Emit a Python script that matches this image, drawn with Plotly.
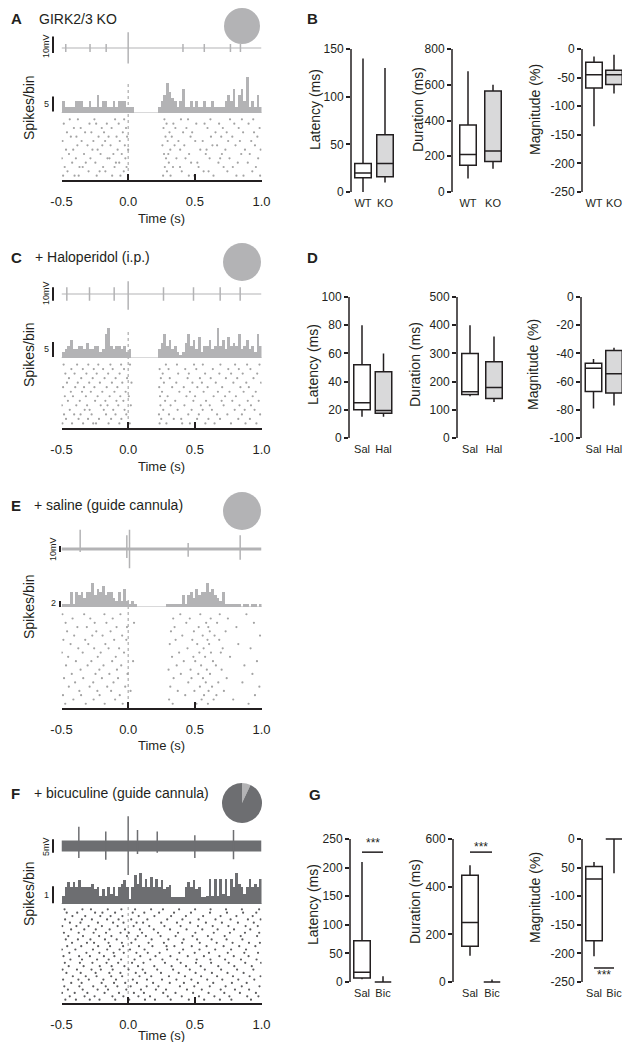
import plotly.graph_objects as go

# ---------------------------------------------------------------- data
TIME_RANGE = [-0.5, 1.0]
BIN_W = 0.02
TIME_TICKS = [-0.5, 0.0, 0.5, 1.0]
TIME_TEXT = ['-0.5', '0.0', '0.5', '1.0']

# voltage traces: spike time (s), peak (mV), trough (mV)
A_SPK_T = [-0.468, -0.286, -0.165, 0.0, 0.411, 0.571, 0.767, 0.842]
A_SPK_UP = [2.4, 2.4, 2.4, 9.6, 2.4, 2.4, 2.4, 2.4]
A_SPK_DN = [-2.4, -2.4, -2.4, -9.4, -2.4, -2.4, -2.4, -2.4]
C_SPK_T = [-0.46, -0.29, -0.105, 0.0, 0.265, 0.49, 0.69, 0.84]
C_SPK_UP = [5, 5, 5, 9.5, 5, 5, 5, 5]
C_SPK_DN = [-5, -5, -5, -11.8, -5, -5, -5, -5]
E_SPK_T = [-0.36, -0.01, 0.01, 0.45, 0.84]
E_SPK_UP = [32, 23, 32, 10, 23]
E_SPK_DN = [-5, -15, -32, -13, -18]
F_SPK_T = [-0.37, -0.168, 0.0, 0.07, 0.218, 0.5, 0.79]
F_SPK_UP = [7.2, 5.4, 11.2, 6, 5.4, 4, 6]
F_SPK_DN = [-4.5, -5.2, -10.9, -3, -2.5, -4.5, -5]

# PSTH counts, 20 ms bins from -0.5 s to 1.0 s
A_HIST = [4, 2, 2, 2, 2, 4, 4, 4, 2, 2, 4, 2, 2, 6, 2, 4, 4, 2, 2, 4, 2, 4, 4, 4, 2,
          2, 2, 0, 0, 0, 0, 0, 0, 0, 0,
          0, 2, 4, 6, 10, 7, 5, 4, 2, 4, 8, 2, 2, 4, 2, 4, 2, 2, 4, 2,
          2, 4, 2, 2, 2, 2, 4, 6, 4, 8, 2, 6, 8, 4, 12, 2, 4, 2, 6, 2]
C_HIST = [2, 3, 4, 6, 3, 3, 4, 4, 3, 5, 3, 3, 4, 4, 2, 3, 8, 10, 4, 3, 4, 4, 3, 4, 2,
          3, 0, 0, 0, 0, 0, 0, 0, 0, 0,
          0, 3, 5, 8, 4, 6, 3, 4, 2, 1, 2, 5, 8, 4, 6, 3, 7, 2, 4, 4,
          6, 3, 4, 10, 4, 6, 3, 7, 4, 5, 4, 8, 3, 4, 6, 3, 4, 2, 8, 4]
E_HIST = [1, 1, 1, 5, 1, 5, 4, 5, 3, 5, 5, 8, 4, 6, 5, 7, 4, 5, 5, 3, 2, 5, 2, 6, 2,
          1, 2, 1, 0, 0, 0, 0, 0, 0, 0,
          0, 0, 0, 0, 1, 1, 1, 1, 1, 1, 4, 1, 4, 5, 3, 6, 4, 5, 5, 8,
          5, 6, 4, 3, 2, 5, 1, 1, 1, 1, 1, 1, 0, 1, 1, 0, 1, 1, 0, 1]
F_HIST = [0.5, 1.0, 1.3, 1.0, 1.3, 1.0, 1.4, 1.0, 1.0, 1.0, 1.0, 1.2, 0.9, 1.0, 0.5,
          0.9, 0.5, 1.0, 0.6, 1.0, 0.5, 1.0, 1.2, 1.4, 1.0, 0.3, 1.0, 1.7, 1.2, 1.8,
          1.0, 1.5, 1.0, 1.6, 1.0, 1.5, 1.0, 1.4, 0.9, 1.0, 1.1, 0.4, 0.4, 0.4, 0.4,
          0.4, 1.0, 1.3, 1.0, 1.4, 0.9, 1.0, 0.4, 0.4, 0.5, 1.5, 0.5, 1.5, 0.5, 1.5,
          0.6, 1.5, 0.5, 1.5, 1.0, 1.8, 1.2, 1.0, 0.6, 1.0, 1.5, 1.0, 1.2, 1.0, 1.5]

# rasters: spike times (ms) per trial
A_RASTER = [
    [-488, -402, -371, -236, -120, -58, 262, 318, 455, 497, 640, 812, 865, 990],
    [-455, -297, -214, -171, -33, 291, 402, 566, 603, 744, 931],
    [-476, -365, -341, -188, -102, -12, 275, 336, 389, 528, 716, 785, 958],
    [-420, -318, -246, -92, -67, 305, 472, 519, 677, 822, 897],
    [-497, -392, -283, -155, -140, -21, 284, 362, 430, 611, 690, 760, 975],
    [-444, -331, -207, -111, -48, 269, 301, 457, 582, 703, 848, 912],
    [-466, -412, -268, -229, -79, 0, 316, 390, 541, 588, 729, 876, 994],
    [-381, -305, -194, -132, -25, 257, 348, 421, 632, 667, 805, 951],
    [-492, -349, -261, -173, -63, 296, 377, 503, 559, 750, 838, 923],
    [-430, -388, -222, -147, -87, -8, 280, 327, 468, 621, 698, 781, 969],
    [-459, -323, -276, -181, -40, 310, 412, 480, 655, 739, 862, 944],
    [-407, -356, -198, -124, -16, 265, 354, 437, 595, 710, 829, 986],
    [-483, -290, -240, -160, -71, 288, 339, 511, 573, 682, 796, 903],
    [-438, -377, -253, -98, -30, 272, 396, 449, 617, 764, 853, 938],
]
C_RASTER = [
    [-493, -421, -338, -262, -241, -147, -66, 12, 236, 287, 405, 463, 579, 648, 771, 880, 962],
    [-466, -372, -301, -219, -128, -51, 248, 342, 398, 517, 602, 689, 826, 913],
    [-481, -405, -357, -274, -166, -95, -14, 231, 306, 451, 530, 667, 744, 853, 990],
    [-438, -326, -289, -183, -112, -27, 263, 371, 476, 559, 628, 799, 874, 948],
    [-497, -389, -308, -206, -155, -74, 20, 242, 318, 422, 545, 612, 716, 835, 921],
    [-452, -363, -248, -171, -88, -36, 277, 353, 489, 584, 701, 781, 897, 979],
    [-475, -414, -317, -229, -139, -59, 5, 239, 296, 437, 502, 641, 727, 808, 934],
    [-430, -346, -280, -194, -103, -19, 254, 384, 463, 566, 673, 760, 866, 957],
    [-488, -397, -331, -253, -161, -81, 233, 330, 417, 519, 596, 705, 842, 905],
    [-459, -378, -292, -212, -122, -44, 25, 268, 361, 482, 553, 657, 789, 886, 997],
    [-444, -352, -266, -177, -94, -8, 245, 312, 446, 538, 619, 733, 818, 940],
    [-471, -402, -313, -236, -150, -64, 259, 375, 455, 577, 684, 772, 859, 968],
    [-426, -340, -258, -188, -116, -31, 236, 303, 428, 511, 635, 751, 830, 917],
    [-484, -383, -299, -224, -133, -53, 14, 283, 366, 494, 560, 692, 802, 892, 985],
]
E_RASTER = [
    [-472, -318, -176, -41, 334, 512, 598, 903],
    [-411, -259, -98, 307, 551, 641, 788],
    [-489, -353, -214, -63, 428, 569, 662, 951],
    [-366, -231, -128, 18, 372, 497, 603, 718],
    [-445, -289, -157, -22, 316, 538, 629, 984],
    [-398, -262, -110, 451, 582, 676, 857],
    [-481, -337, -197, -76, 341, 475, 561, 739],
    [-423, -245, -141, -5, 395, 526, 614, 932],
    [-357, -216, -84, 303, 468, 590, 701],
    [-466, -304, -185, -52, 364, 547, 658, 872],
    [-392, -276, -120, 37, 417, 503, 636, 966],
    [-450, -228, -93, 329, 489, 577, 764],
    [-497, -341, -206, -31, 382, 534, 621, 695],
    [-374, -255, -147, -68, 445, 566, 709, 918],
    [-432, -299, -171, 312, 518, 607, 826],
    [-486, -322, -105, -14, 356, 481, 595, 683],
    [-405, -269, -192, -45, 406, 559, 648, 989],
    [-458, -239, -132, 321, 493, 612, 731],
    [-381, -310, -87, -9, 348, 529, 601, 812],
    [-469, -251, -163, 44, 436, 585, 667, 943],
    [-417, -284, -116, 338, 462, 619, 748],
    [-493, -330, -178, -58, 391, 541, 687, 887],
]
F_RASTER = [
    [-471, -392, -288, -215, -97, 8, 126, 201, 319, 455, 570, 688, 774, 921],
    [-438, -327, -252, -118, -36, 77, 164, 297, 402, 531, 647, 759, 893, 977],
    [-496, -401, -306, -177, -69, 43, 118, 263, 355, 487, 603, 721, 838, 958],
    [-452, -341, -229, -151, -14, 96, 208, 284, 441, 552, 694, 801, 907],
    [-479, -366, -262, -168, -81, 19, 139, 227, 388, 496, 612, 731, 852, 985],
    [-427, -349, -199, -106, -22, 66, 187, 312, 418, 523, 638, 778, 889],
    [-488, -373, -295, -186, -91, 35, 141, 254, 362, 474, 593, 706, 826, 946],
    [-415, -318, -237, -127, -45, 85, 173, 306, 426, 547, 667, 786, 911, 993],
    [-463, -356, -244, -141, -58, 57, 128, 246, 379, 506, 628, 745, 866],
    [-492, -384, -275, -205, -116, 3, 109, 218, 337, 462, 575, 697, 817, 939],
    [-446, -334, -213, -124, -28, 74, 196, 326, 434, 544, 676, 796, 927],
    [-475, -362, -268, -162, -75, 29, 115, 276, 394, 509, 622, 754, 878, 997],
    [-433, -346, -233, -146, -53, 48, 166, 257, 368, 514, 617, 727, 846, 963],
    [-485, -368, -287, -182, -103, 91, 205, 317, 447, 568, 684, 792, 903],
    [-441, -313, -216, -109, -33, 62, 147, 236, 384, 499, 606, 747, 871, 974],
    [-497, -396, -264, -157, -64, 14, 123, 292, 412, 535, 653, 772, 884],
    [-457, -352, -225, -136, -38, 81, 182, 288, 347, 477, 588, 716, 833, 954],
    [-421, -309, -256, -147, -47, 24, 153, 268, 405, 537, 664, 783, 906, 988],
    [-468, -377, -283, -174, -86, 55, 176, 302, 416, 517, 626, 738, 857],
    [-449, -339, -218, -126, -9, 72, 133, 243, 356, 483, 598, 724, 844, 967],
    [-482, -371, -259, -166, -57, 5, 104, 224, 374, 504, 642, 763, 876, 983],
    [-428, -329, -243, -139, -24, 88, 192, 314, 438, 556, 671, 794, 916],
    [-494, -388, -297, -197, -79, 41, 158, 272, 393, 524, 634, 752, 881, 972],
    [-437, -358, -227, -113, -35, 63, 112, 248, 366, 465, 583, 703, 823, 942],
    [-473, -347, -272, -158, -72, 23, 144, 293, 407, 528, 655, 768, 898, 994],
    [-418, -322, -209, -132, -43, 79, 197, 322, 433, 562, 693, 812, 934],
    [-461, -382, -248, -193, -98, 34, 121, 232, 344, 471, 614, 741, 862, 961],
    [-477, -343, -279, -153, -51, 52, 172, 261, 382, 502, 618, 734, 853, 982],
]

# pie charts (fraction of neurons)
A_PIE = [100]
C_PIE = [100]
E_PIE = [100]
F_PIE = [7, 93]

# box stats: lower whisker, q1, median, q3, upper whisker
B_CATS = ['WT', 'KO']
B_LAT = [[0, 15, 20, 30, 140], [10, 16, 30, 60, 130]]
B_DUR = [[75, 150, 210, 375, 675], [130, 170, 230, 565, 600]]
B_MAG = [[-135, -68, -45, -23, -13], [-78, -62, -45, -37, -10]]
D_CATS = ['Sal', 'Hal']
D_LAT = [[15, 20, 25, 52, 80], [15, 17.5, 19.5, 47, 60]]
D_DUR = [[148, 154, 164, 300, 400], [128, 140, 179, 270, 360]]
D_MAG = [[-79, -67, -50.5, -47, -44], [-77, -68, -54.5, -38, -36]]
G_CATS = ['Sal', 'Bic']
G_LAT = [[5, 7, 17, 72, 210], [0, 0, 0, 0, 10]]
G_DUR = [[110, 150, 250, 448, 490], [0, 0, 0, 0, 10]]
G_MAG = [[-205, -178, -70, -48, -40], [-60, 0, 0, 0, 0]]
G_SIG = [227, 545, -225.5]      # significance bar levels
G_STAR = [243, 566, -238]       # *** label levels

B_LAT_TICKS = [0, 50, 100, 150]
B_DUR_TICKS = [0, 200, 400, 600, 800]
B_MAG_TICKS = [0, -50, -100, -150, -200, -250]
D_LAT_TICKS = [0, 20, 40, 60, 80, 100]
D_DUR_TICKS = [0, 100, 200, 300, 400, 500]
D_MAG_TICKS = [0, -20, -40, -60, -80, -100]
G_LAT_TICKS = [0, 50, 100, 150, 200, 250]
G_DUR_TICKS = [0, 200, 400, 600]
G_MAG_TICKS = [0, -50, -100, -150, -200, -250]
G_MAG_TEXT = ['0', '50', '-100', '-150', '-200', '-250']

# ---------------------------------------------------------------- helpers
OFF = 8                      # page body margin; positions below are page pixels
W, H = 631 - 2 * OFF, 1050 - 2 * OFF
INK = '#231f20'
LIGHT = '#b3b3b5'
DARK = '#6d6e71'
FONT = 'Liberation Sans, Arial, Helvetica, sans-serif'


def fx(px):
    return (px - OFF) / W


def fy(py):
    return 1 - (py - OFF) / H


fig = go.Figure()
layout = {}
shapes = []
annos = []
n_ax = [0]


def new_axes(xpx, ypx, xr, yr, xkw=None, ykw=None):
    n_ax[0] += 1
    s = '' if n_ax[0] == 1 else str(n_ax[0])
    xa = dict(domain=[fx(xpx[0]), fx(xpx[1])], range=xr, anchor='y' + s, automargin=False,
              showgrid=False, zeroline=False, fixedrange=True)
    xa.update(xkw or dict(visible=False))
    ya = dict(domain=[fy(ypx[1]), fy(ypx[0])], range=yr, anchor='x' + s, automargin=False,
              showgrid=False, zeroline=False, fixedrange=True)
    ya.update(ykw or dict(visible=False))
    layout['xaxis' + s] = xa
    layout['yaxis' + s] = ya
    return 'x' + s, 'y' + s


def text(x, y, s, size=13, angle=0, anchor='center', bold=False):
    annos.append(dict(x=fx(x), y=fy(y), xref='paper', yref='paper', text=s,
                      showarrow=False, textangle=angle, xanchor=anchor, yanchor='middle',
                      font=dict(size=size, color=INK, family=FONT,
                                weight='bold' if bold else 'normal')))


TIME_AXIS = dict(visible=True, showline=True, linecolor=INK, linewidth=1.5,
                 ticks='inside', ticklen=6, tickwidth=1.5, tickcolor=INK,
                 tickvals=TIME_TICKS, ticktext=TIME_TEXT, ticklabelstandoff=9,
                 tickfont=dict(size=13, color=INK, family=FONT))


def time_panel(cfg, spk, hist, raster, pie, color, dot_color, pie_colors):
    x0, x1 = 61.5, 261.5
    # voltage trace
    vmax = cfg['vmax']
    xa, ya = new_axes((x0, x1), cfg['trace'], TIME_RANGE, [-vmax, vmax])
    fig.add_trace(go.Scatter(x=TIME_RANGE, y=[0, 0], mode='lines',
                             line=dict(color=color, width=cfg['band']),
                             xaxis=xa, yaxis=ya, hoverinfo='skip'))
    xs, ys = [], []
    for t, u, d in zip(*spk):
        xs += [t, t, None]
        ys += [u, d, None]
    fig.add_trace(go.Scatter(x=xs, y=ys, mode='lines', line=dict(color=color, width=1.5),
                             xaxis=xa, yaxis=ya, hoverinfo='skip'))
    ty0, ty1 = cfg['trace']
    tri_v = vmax + (ty0 - cfg['tri']) * 2 * vmax / (ty1 - ty0)
    fig.add_trace(go.Scatter(x=[0.0], y=[tri_v], mode='markers', cliponaxis=False,
                             marker=dict(symbol='triangle-down', size=7, color='black'),
                             xaxis=xa, yaxis=ya, hoverinfo='skip'))
    shapes.append(dict(type='line', xref='paper', yref=ya, x0=fx(cfg['bar_x']), x1=fx(cfg['bar_x']),
                       y0=cfg['mv_bar'][0], y1=cfg['mv_bar'][1], line=dict(color=INK, width=2)))
    text(cfg['bar_x'] - 7, cfg['mv_lab_y'], cfg['mv_lab'], size=9, angle=-90)

    # PSTH
    xa, ya = new_axes((x0, x1), cfg['hist'], TIME_RANGE, [0, cfg['hmax']])
    centers = [TIME_RANGE[0] + BIN_W * (i + 0.5) for i in range(len(hist))]
    fig.add_trace(go.Bar(x=centers, y=hist, width=BIN_W, marker=dict(color=color, line=dict(width=0)),
                         xaxis=xa, yaxis=ya, hoverinfo='skip'))
    shapes.append(dict(type='line', xref=xa + ' domain', yref=ya, x0=0, x1=1, y0=0, y1=0,
                       line=dict(color=color, width=1.2)))
    shapes.append(dict(type='line', xref='paper', yref=ya, x0=fx(cfg['bar_x']), x1=fx(cfg['bar_x']),
                       y0=cfg['h_bar'][0], y1=cfg['h_bar'][1], line=dict(color=INK, width=2)))
    text(cfg['bar_x'] - 7, cfg['h_lab_y'], cfg['h_lab'], size=9)

    # raster
    n = len(raster)
    xa, ya = new_axes((x0, x1), cfg['raster'], TIME_RANGE, [0, n + 1], xkw=TIME_AXIS)
    rx, ry = [], []
    for k, trial in enumerate(raster):
        rx += [t / 1000 for t in trial]
        ry += [k + 1] * len(trial)
    fig.add_trace(go.Scatter(x=rx, y=ry, mode='markers',
                             marker=dict(size=2.2, color=dot_color, line=dict(width=0)),
                             xaxis=xa, yaxis=ya, hoverinfo='skip'))
    shapes.append(dict(type='line', xref=xa, yref='paper', x0=0, x1=0,
                       y0=fy(cfg['raster'][1] - 3), y1=fy(cfg['dot_top']),
                       line=dict(color='#9a9a9a', width=1, dash='dot'), layer='below'))

    # pie
    cx, cy, r = cfg['pie']
    fig.add_trace(go.Pie(values=pie, marker=dict(colors=pie_colors, line=dict(width=0)),
                         domain=dict(x=[fx(cx - r), fx(cx + r)], y=[fy(cy + r), fy(cy - r)]),
                         textinfo='none', sort=False, direction='counterclockwise',
                         hoverinfo='skip', showlegend=False))

    # labels
    text(9, cfg['title_y'], cfg['letter'], size=15, anchor='left', bold=True)
    text(cfg['title_x'], cfg['title_y'], cfg['title'], size=14, anchor='left')
    text(29, cfg['ylab_y'], 'Spikes/bin', size=14, angle=-90)
    text(161, cfg['time_y'], 'Time (s)', size=13)


def box_panel(ytop, ybot, vtop, vbot, ax_px, c0, c1, right, stats, fills, cats,
              tickvals, ticktext, title, title_x, title_y, pad=3):
    unit = c1 - c0
    xr = [(ax_px - c0) / unit, (right - c0) / unit]
    k = (vtop - vbot) / (ybot - ytop)
    yr = [vbot - pad * k, vtop + pad * k]
    ykw = dict(visible=True, showline=False, ticks='outside', ticklen=4, tickwidth=1.5,
               tickcolor=INK, tickvals=tickvals,
               ticktext=ticktext or [str(v) for v in tickvals],
               tickfont=dict(size=12, color=INK, family=FONT))
    xkw = dict(visible=True, showline=False, ticks='', tickvals=[0, 1], ticktext=cats,
               tickfont=dict(size=11, color=INK, family=FONT))
    xa, ya = new_axes((ax_px, right), (ytop - pad, ybot + pad), xr, yr, xkw, ykw)
    for i, (s, fc) in enumerate(zip(stats, fills)):
        fig.add_trace(go.Box(x=[i], lowerfence=[s[0]], q1=[s[1]], median=[s[2]], q3=[s[3]],
                             upperfence=[s[4]], width=16.5 / unit, whiskerwidth=0,
                             fillcolor=fc, line=dict(color=INK, width=1.5),
                             boxpoints=False, xaxis=xa, yaxis=ya, hoverinfo='skip'))
    shapes.append(dict(type='line', xref=xa + ' domain', yref=ya, x0=0, x1=0,
                       y0=vbot, y1=vtop, line=dict(color=INK, width=1.5)))
    text(title_x, title_y, title, size=14, angle=-90)
    return xa, ya


# ---------------------------------------------------------------- panels A, C, E, F
time_panel(dict(letter='A', title='GIRK2/3 KO', title_x=37, title_y=19,
                trace=(30, 66), vmax=11, band=1.2, tri=27,
                bar_x=53, mv_bar=(-3, 7), mv_lab='10mV', mv_lab_y=46,
                hist=(71, 113), hmax=14, h_bar=(0.5, 5.5), h_lab='5', h_lab_y=104,
                raster=(115, 180), dot_top=82, pie=(242, 26, 18), ylab_y=108, time_y=219),
           (A_SPK_T, A_SPK_UP, A_SPK_DN), A_HIST, A_RASTER, A_PIE, LIGHT, '#a3a3a3', [LIGHT])

time_panel(dict(letter='C', title='+ Haloperidol (i.p.)', title_x=33, title_y=257,
                trace=(276, 312), vmax=13.5, band=1.2, tri=271,
                bar_x=53, mv_bar=(-5, 5), mv_lab='10mV', mv_lab_y=293,
                hist=(316, 358), hmax=14, h_bar=(0.3, 5.3), h_lab='5', h_lab_y=349,
                raster=(360, 428), dot_top=330, pie=(242, 262, 19), ylab_y=355, time_y=466),
           (C_SPK_T, C_SPK_UP, C_SPK_DN), C_HIST, C_RASTER, C_PIE, LIGHT, '#a3a3a3', [LIGHT])

time_panel(dict(letter='E', title='+ saline (guide cannula)', title_x=32, title_y=505,
                trace=(525, 573), vmax=40, band=3, tri=521,
                bar_x=60, mv_bar=(-5, 5), mv_lab='10mV', mv_lab_y=549,
                hist=(580, 607), hmax=9, h_bar=(0, 2), h_lab='2', h_lab_y=603,
                raster=(610, 708), dot_top=598, pie=(242, 511, 19), ylab_y=607, time_y=745),
           (E_SPK_T, E_SPK_UP, E_SPK_DN), E_HIST, E_RASTER, E_PIE, LIGHT, '#a3a3a3', [LIGHT])

time_panel(dict(letter='F', title='+ bicuculine (guide cannula)', title_x=32, title_y=793,
                trace=(812, 880), vmax=12.75, band=11, tri=809,
                bar_x=53, mv_bar=(-2.5, 2.5), mv_lab='5mV', mv_lab_y=847,
                hist=(870, 904), hmax=2, h_bar=(0.05, 1.05), h_lab='1', h_lab_y=895,
                raster=(906, 1003), dot_top=900, pie=(242, 803, 20), ylab_y=894, time_y=1035),
           (F_SPK_T, F_SPK_UP, F_SPK_DN), F_HIST, F_RASTER, F_PIE, DARK, '#5c5c5e', [LIGHT, DARK])

# ---------------------------------------------------------------- panels B, D, G
GRAYBOX = '#d9d9da'
text(305, 19, 'B', size=15, anchor='left', bold=True)
box_panel(49, 192, 150, 0, 351, 363, 385, 396, B_LAT, ['white', GRAYBOX], B_CATS,
          B_LAT_TICKS, None, 'Latency (ms)', 315, 110)
box_panel(49, 192, 800, 0, 452, 468, 493, 505, B_DUR, ['white', GRAYBOX], B_CATS,
          B_DUR_TICKS, None, 'Duration (ms)', 418, 110)
box_panel(49, 192, 0, -250, 582, 594, 614, 622, B_MAG, ['white', GRAYBOX], B_CATS,
          B_MAG_TICKS, None, 'Magnitude (%)', 535, 110)

text(305, 257, 'D', size=15, anchor='left', bold=True)
box_panel(297, 438, 100, 0, 349, 362, 383.5, 394, D_LAT, ['white', GRAYBOX], D_CATS,
          D_LAT_TICKS, None, 'Latency (ms)', 313, 365)
box_panel(297, 438, 500, 0, 457, 470, 494, 505, D_DUR, ['white', GRAYBOX], D_CATS,
          D_DUR_TICKS, None, 'Duration (ms)', 415, 365)
box_panel(297, 438, 0, -100, 581, 593.5, 614, 622, D_MAG, ['white', GRAYBOX], D_CATS,
          D_MAG_TICKS, None, 'Magnitude (%)', 533, 365)

text(307, 794, 'G', size=15, anchor='left', bold=True)
g_axes = [
    box_panel(839, 982, 250, 0, 350, 362, 383, 394, G_LAT, ['white', 'white'], G_CATS,
              G_LAT_TICKS, None, 'Latency (ms)', 313, 905),
    box_panel(839, 982, 600, 0, 453, 470, 492, 503, G_DUR, ['white', 'white'], G_CATS,
              G_DUR_TICKS, None, 'Duration (ms)', 415, 902),
    box_panel(839, 982, 0, -250, 582, 594, 614, 622, G_MAG, ['white', 'white'], G_CATS,
              G_MAG_TICKS, G_MAG_TEXT, 'Magnitude (%)', 535, 898),
]
for (xa, ya), lvl, star in zip(g_axes, G_SIG, G_STAR):
    shapes.append(dict(type='line', xref=xa, yref=ya, x0=0, x1=1, y0=lvl, y1=lvl,
                       line=dict(color=INK, width=1.5)))
    annos.append(dict(x=0.5, y=star, xref=xa, yref=ya, text='***', showarrow=False,
                      font=dict(size=12, color=INK, family=FONT)))

fig.update_layout(
    template='none',
    width=W, height=H, margin=dict(l=0, r=0, t=0, b=0, pad=0),
    paper_bgcolor='white', plot_bgcolor='rgba(0,0,0,0)',
    showlegend=False, bargap=0,
    font=dict(family=FONT, color=INK),
    shapes=shapes, annotations=annos,
    **layout,
)
fig.write_html("out.html")
